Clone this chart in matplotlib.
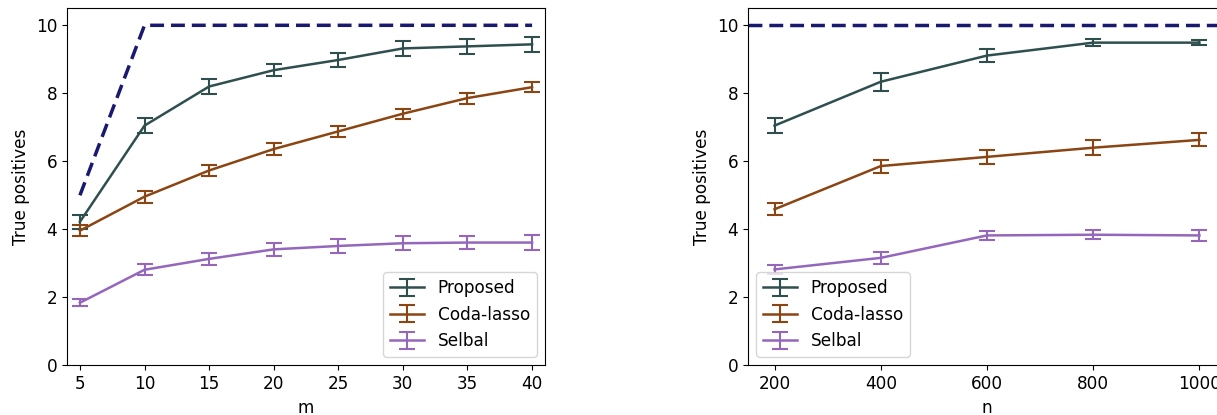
import matplotlib
matplotlib.use("Agg")
import matplotlib.pyplot as plt

# ---- data ----
m_vals = [5, 10, 15, 20, 25, 30, 35, 40]
m_oracle = [5, 10, 10, 10, 10, 10, 10, 10]
m_proposed = [4.22, 7.05, 8.2, 8.68, 8.98, 9.32, 9.38, 9.44]
m_proposed_err = [0.2, 0.22, 0.21, 0.18, 0.22, 0.22, 0.22, 0.22]
m_coda = [3.96, 4.96, 5.73, 6.36, 6.88, 7.4, 7.86, 8.18]
m_coda_err = [0.17, 0.18, 0.17, 0.17, 0.16, 0.15, 0.16, 0.15]
m_selbal = [1.84, 2.81, 3.13, 3.41, 3.51, 3.59, 3.61, 3.61]
m_selbal_err = [0.11, 0.16, 0.18, 0.2, 0.2, 0.2, 0.2, 0.21]

n_vals = [200, 400, 600, 800, 1000]
n_oracle = 10
n_proposed = [7.05, 8.34, 9.11, 9.49, 9.49]
n_proposed_err = [0.21, 0.26, 0.2, 0.11, 0.08]
n_coda = [4.59, 5.86, 6.13, 6.4, 6.63]
n_coda_err = [0.18, 0.19, 0.2, 0.22, 0.19]
n_selbal = [2.82, 3.16, 3.82, 3.84, 3.82]
n_selbal_err = [0.13, 0.17, 0.14, 0.13, 0.15]

labels = ["Proposed", "Coda-lasso", "Selbal"]
colors = ["#2F4F4F", "#8B4513", "#9467BD"]
oracle_color = "#191970"

plt.rcParams['font.family'] = ['DejaVu Sans']
plt.rcParams['font.size'] = 12.2

fig = plt.figure(figsize=(12.17, 4.15), dpi=100)
W, H = 1217, 415
ax1 = fig.add_axes([67 / W, (H - 365.3) / H, (545 - 67) / W, (365.3 - 8.3) / H])
ax2 = fig.add_axes([748 / W, (H - 365.3) / H, (1226 - 748) / W, (365.3 - 8.3) / H])

ekw = dict(capsize=6, lw=1.8, capthick=1.5, elinewidth=1.5)

ax1.plot(m_vals, m_oracle, ls="--", color=oracle_color, lw=2.5, dashes=(4, 2))
for y, e, lab, c in zip([m_proposed, m_coda, m_selbal],
                        [m_proposed_err, m_coda_err, m_selbal_err], labels, colors):
    ax1.errorbar(m_vals, y, yerr=e, color=c, label=lab, **ekw)
ax1.set_xlim(4, 41)
ax1.set_ylim(0, 10.5)
ax1.set_xticks(m_vals)
ax1.set_yticks([0, 2, 4, 6, 8, 10])
ax1.set_xlabel("m")
ax1.set_ylabel("True positives")
ax1.legend(loc="lower right")

ax2.axhline(n_oracle, ls="--", color=oracle_color, lw=2.5, dashes=(4, 2))
for y, e, lab, c in zip([n_proposed, n_coda, n_selbal],
                        [n_proposed_err, n_coda_err, n_selbal_err], labels, colors):
    ax2.errorbar(n_vals, y, yerr=e, color=c, label=lab, **ekw)
ax2.set_xlim(150, 1050)
ax2.set_ylim(0, 10.5)
ax2.set_xticks(n_vals)
ax2.set_yticks([0, 2, 4, 6, 8, 10])
ax2.set_xlabel("n")
ax2.set_ylabel("True positives")
ax2.legend(loc="lower left")

fig.savefig("out.png", dpi=100)
